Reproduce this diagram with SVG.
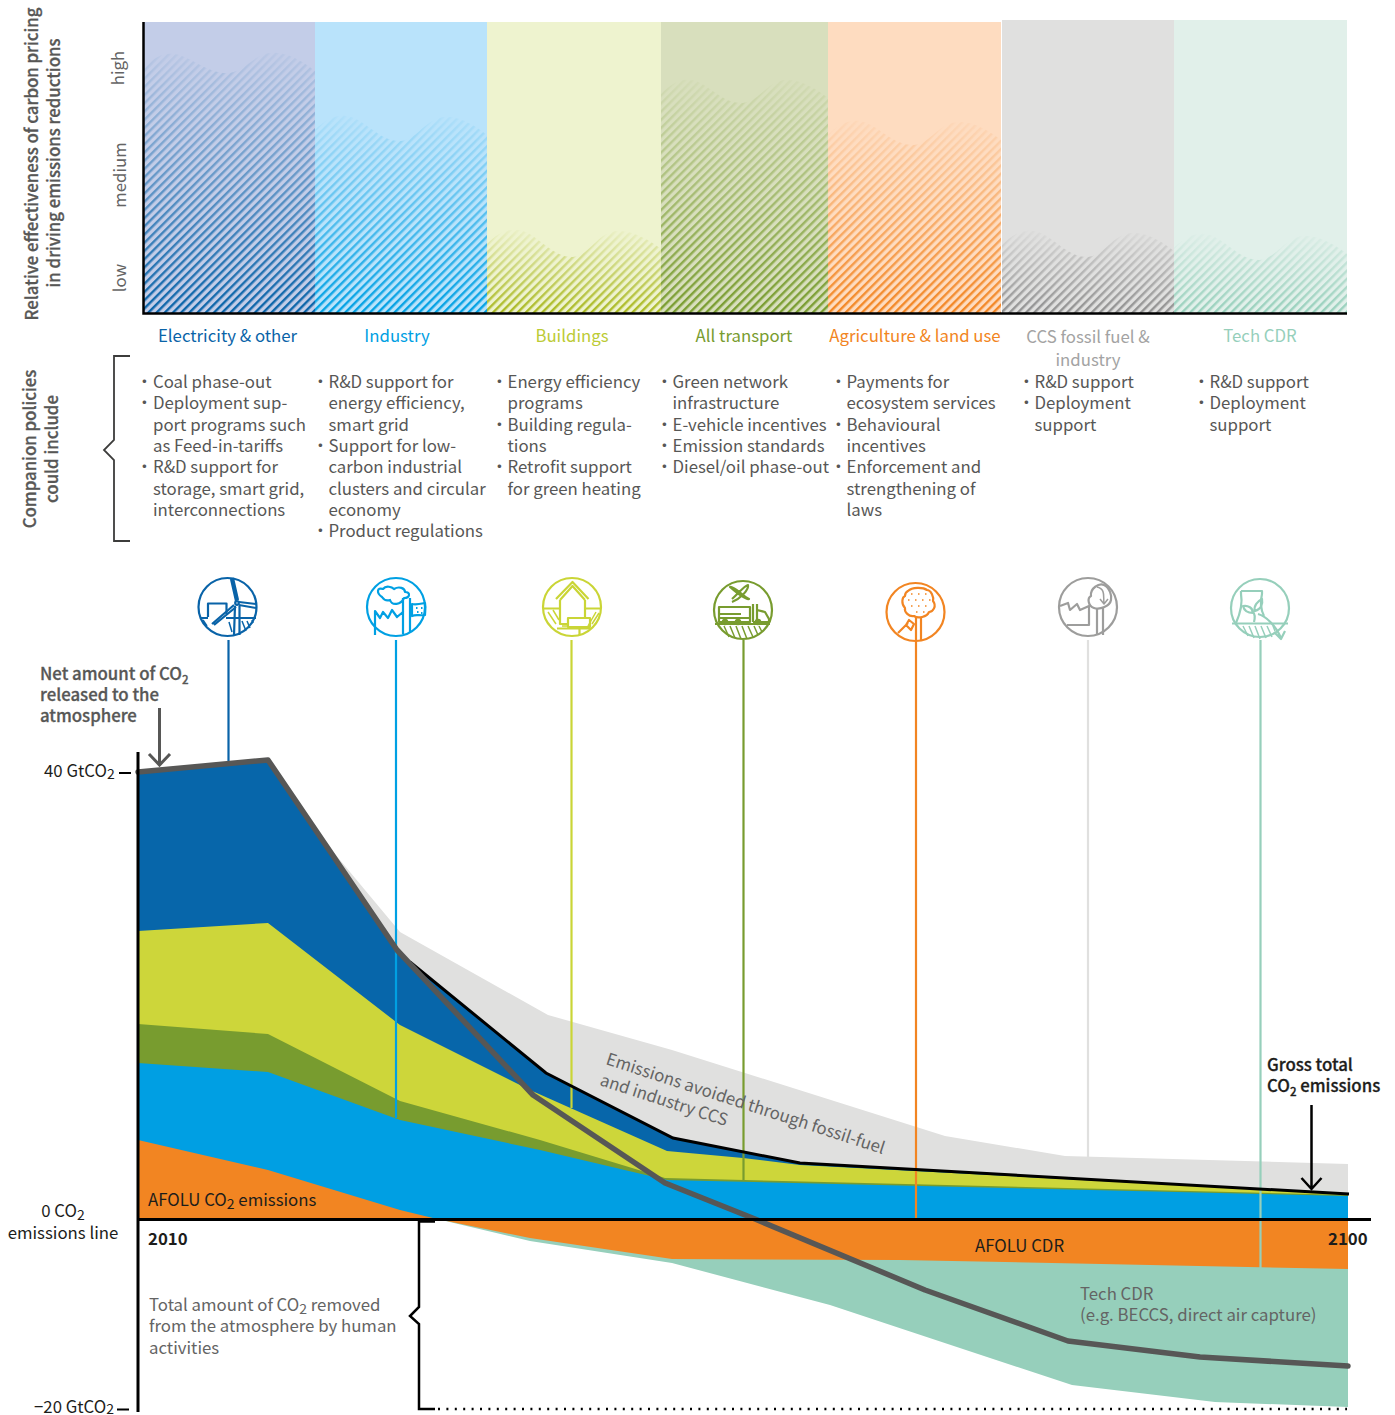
<svg xmlns="http://www.w3.org/2000/svg" width="1395" height="1415" viewBox="0 0 1395 1415">
<style>
text{font-family:"Noto Sans CJK SC","Source Sans Pro","Noto Sans",sans-serif;font-size:16.800px;fill:#1d1d1b}
.m{text-anchor:middle}
.g{fill:#646464}
.b{font-weight:700}
.md{font-weight:500;stroke:#1d1d1b;stroke-width:.3}
.lab{fill:#575756;font-weight:500;stroke:#575756;stroke-width:.3}
.pol{fill:#575756}
.ic{fill:none;stroke-width:2.200;stroke-linejoin:round}
.ht{stroke-width:1.500}
.conn{fill:none;stroke-width:2.200}
.ax{fill:none;stroke:#000;stroke-width:3}
</style>
<defs>
<linearGradient id="fade" x1="0" y1="0" x2="0" y2="1"><stop offset="0" stop-color="#fff" stop-opacity=".04"/><stop offset="1" stop-color="#fff" stop-opacity="1"/></linearGradient>
<pattern id="h1" width="5.800" height="5.800" patternUnits="userSpaceOnUse" patternTransform="rotate(-45)"><rect width="5.800" height="2.400" fill="#0963a8"/></pattern>
<pattern id="h2" width="5.800" height="5.800" patternUnits="userSpaceOnUse" patternTransform="rotate(-45)"><rect width="5.800" height="2.400" fill="#00a0e3"/></pattern>
<pattern id="h3" width="5.800" height="5.800" patternUnits="userSpaceOnUse" patternTransform="rotate(-45)"><rect width="5.800" height="2.400" fill="#a9b81f"/></pattern>
<pattern id="h4" width="5.800" height="5.800" patternUnits="userSpaceOnUse" patternTransform="rotate(-45)"><rect width="5.800" height="2.400" fill="#789c2f"/></pattern>
<pattern id="h5" width="5.800" height="5.800" patternUnits="userSpaceOnUse" patternTransform="rotate(-45)"><rect width="5.800" height="2.400" fill="#f28522"/></pattern>
<pattern id="h6" width="5.800" height="5.800" patternUnits="userSpaceOnUse" patternTransform="rotate(-45)"><rect width="5.800" height="2.400" fill="#8f8f8f"/></pattern>
<pattern id="h7" width="5.800" height="5.800" patternUnits="userSpaceOnUse" patternTransform="rotate(-45)"><rect width="5.800" height="2.400" fill="#96cfbb"/></pattern>
<mask id="m1" maskUnits="userSpaceOnUse" x="143" y="20" width="172" height="294"><path fill="url(#fade)" d="M143 68c12-12 24-17 36-13c16 5 30 19 50 18c18-2 26-22 48-20c14 1 28 10 38 18V313H143Z"/></mask>
<mask id="m2" maskUnits="userSpaceOnUse" x="315" y="20" width="172" height="294"><path fill="url(#fade)" d="M315 130c12-12 24-17 36-13c16 5 30 25 50 24c18-2 26-26 48-24c14 1 28 10 38 18V313H315Z"/></mask>
<mask id="m3" maskUnits="userSpaceOnUse" x="487" y="20" width="174" height="294"><path fill="url(#fade)" d="M487 244c12-12 24-17 36-13c16 5 30 27 50 26c18-2 26-28 48-26c14 1 30 10 40 18V313H487Z"/></mask>
<mask id="m4" maskUnits="userSpaceOnUse" x="661" y="20" width="167" height="294"><path fill="url(#fade)" d="M661 94c12-12 22-17 34-13c16 5 28 23 48 22c18-2 26-25 46-23c14 1 29 10 39 18V313H661Z"/></mask>
<mask id="m5" maskUnits="userSpaceOnUse" x="828" y="20" width="173" height="294"><path fill="url(#fade)" d="M828 135c12-12 24-17 36-13c16 5 30 24 50 23c18-2 26-25 48-23c14 1 29 10 39 18V313H828Z"/></mask>
<mask id="m6" maskUnits="userSpaceOnUse" x="1002" y="20" width="172" height="294"><path fill="url(#fade)" d="M1002 245c12-12 24-17 36-13c16 5 30 26 50 25c18-2 26-26 48-24c14 1 28 10 38 18V313H1002Z"/></mask>
<mask id="m7" maskUnits="userSpaceOnUse" x="1174" y="20" width="173" height="294"><path fill="url(#fade)" d="M1174 248c12-12 24-17 36-13c16 5 30 26 50 25c18-2 26-26 48-24c14 1 29 10 39 18V313H1174Z"/></mask>
</defs>

<g id="panels">
<rect x="143" y="22" width="172" height="291" fill="#c3cde8"/>
<rect x="315" y="22" width="172" height="291" fill="#b9e3fb"/>
<rect x="487" y="22" width="174" height="291" fill="#eef3cf"/>
<rect x="661" y="22" width="167" height="291" fill="#d8dfbd"/>
<rect x="828" y="22" width="173" height="291" fill="#fedcc0"/>
<rect x="1002" y="20" width="172" height="293" fill="#e0e0df"/>
<rect x="1174" y="20" width="173" height="293" fill="#e1f0ea"/>
<rect x="143" y="20" width="172" height="294" fill="url(#h1)" mask="url(#m1)"/>
<rect x="315" y="20" width="172" height="294" fill="url(#h2)" mask="url(#m2)"/>
<rect x="487" y="20" width="174" height="294" fill="url(#h3)" mask="url(#m3)"/>
<rect x="661" y="20" width="167" height="294" fill="url(#h4)" mask="url(#m4)"/>
<rect x="828" y="20" width="173" height="294" fill="url(#h5)" mask="url(#m5)"/>
<rect x="1002" y="20" width="172" height="294" fill="url(#h6)" mask="url(#m6)"/>
<rect x="1174" y="20" width="173" height="294" fill="url(#h7)" mask="url(#m7)"/>
<path class="ax" style="stroke-width:2.500" d="M143.500 22V313.500H1347"/>
</g>

<g id="y-labels">
<text class="lab m" transform="translate(38,164) rotate(-90)">Relative effectiveness of carbon pricing</text>
<text class="lab m" transform="translate(60,163) rotate(-90)">in driving emissions reductions</text>
<text class="g m" transform="translate(124,68) rotate(-90)">high</text>
<text class="g m" transform="translate(126,175) rotate(-90)">medium</text>
<text class="g m" transform="translate(126,278) rotate(-90)">low</text>
<text class="lab m" transform="translate(36,449) rotate(-90)">Companion policies</text>
<text class="lab m" transform="translate(58,449) rotate(-90)">could include</text>
<path fill="none" stroke="#3c3c3b" stroke-width="1.800" d="M130 356H114V440L104 450L114 460V541H130"/>
</g>

<g id="sector-labels">
<text class="m" x="227.500" y="342" style="fill:#0963a8">Electricity &amp; other</text>
<text class="m" x="397" y="342" style="fill:#00a0e3">Industry</text>
<text class="m" x="572" y="342" style="fill:#bccb35">Buildings</text>
<text class="m" x="744" y="342" style="fill:#789c2f">All transport</text>
<text class="m" x="915" y="342" style="fill:#f28522">Agriculture &amp; land use</text>
<text class="m" x="1088" y="343" style="fill:#a3a3a3">CCS fossil fuel &amp;</text>
<text class="m" x="1088" y="366" style="fill:#a3a3a3">industry</text>
<text class="m" x="1260" y="342" style="fill:#96cfbb">Tech CDR</text>
</g>

<g id="policies">
<text class="pol" x="136" y="388">•</text><text class="pol" x="153" y="388">Coal phase-out</text>
<text class="pol" x="136" y="409">•</text><text class="pol" x="153" y="409">Deployment sup-</text>
<text class="pol" x="153" y="431">port programs such</text>
<text class="pol" x="153" y="452">as Feed-in-tariffs</text>
<text class="pol" x="136" y="473">•</text><text class="pol" x="153" y="473">R&amp;D support for</text>
<text class="pol" x="153" y="495">storage, smart grid,</text>
<text class="pol" x="153" y="516">interconnections</text>

<text class="pol" x="312" y="388">•</text><text class="pol" x="328.500" y="388">R&amp;D support for</text>
<text class="pol" x="328.500" y="409">energy efficiency,</text>
<text class="pol" x="328.500" y="431">smart grid</text>
<text class="pol" x="312" y="452">•</text><text class="pol" x="328.500" y="452">Support for low-</text>
<text class="pol" x="328.500" y="473">carbon industrial</text>
<text class="pol" x="328.500" y="495">clusters and circular</text>
<text class="pol" x="328.500" y="516">economy</text>
<text class="pol" x="312" y="537">•</text><text class="pol" x="328.500" y="537">Product regulations</text>

<text class="pol" x="491" y="388">•</text><text class="pol" x="507.500" y="388">Energy efficiency</text>
<text class="pol" x="507.500" y="409">programs</text>
<text class="pol" x="491" y="431">•</text><text class="pol" x="507.500" y="431">Building regula-</text>
<text class="pol" x="507.500" y="452">tions</text>
<text class="pol" x="491" y="473">•</text><text class="pol" x="507.500" y="473">Retrofit support</text>
<text class="pol" x="507.500" y="495">for green heating</text>

<text class="pol" x="656" y="388">•</text><text class="pol" x="672.500" y="388">Green network</text>
<text class="pol" x="672.500" y="409">infrastructure</text>
<text class="pol" x="656" y="431">•</text><text class="pol" x="672.500" y="431">E-vehicle incentives</text>
<text class="pol" x="656" y="452">•</text><text class="pol" x="672.500" y="452">Emission standards</text>
<text class="pol" x="656" y="473">•</text><text class="pol" x="672.500" y="473">Diesel/oil phase-out</text>

<text class="pol" x="830" y="388">•</text><text class="pol" x="846.500" y="388">Payments for</text>
<text class="pol" x="846.500" y="409">ecosystem services</text>
<text class="pol" x="830" y="431">•</text><text class="pol" x="846.500" y="431">Behavioural</text>
<text class="pol" x="846.500" y="452">incentives</text>
<text class="pol" x="830" y="473">•</text><text class="pol" x="846.500" y="473">Enforcement and</text>
<text class="pol" x="846.500" y="495">strengthening of</text>
<text class="pol" x="846.500" y="516">laws</text>

<text class="pol" x="1018" y="388">•</text><text class="pol" x="1034.500" y="388">R&amp;D support</text>
<text class="pol" x="1018" y="409">•</text><text class="pol" x="1034.500" y="409">Deployment</text>
<text class="pol" x="1034.500" y="431">support</text>

<text class="pol" x="1193" y="388">•</text><text class="pol" x="1209.500" y="388">R&amp;D support</text>
<text class="pol" x="1193" y="409">•</text><text class="pol" x="1209.500" y="409">Deployment</text>
<text class="pol" x="1209.500" y="431">support</text>
</g>

<g id="areas">
<path fill="#e0e0df" d="M320 836L400 932L548 1015L672 1050L945 1136L1065 1156L1348 1164V1196L800 1165L672 1140L545 1076L408 962Z"/>
<path fill="#96cfbb" d="M437 1219L530 1241L672 1263L830 1305L1072 1385L1215 1402L1348 1407V1219Z"/>
<path fill="#f28522" d="M437 1219L530 1238L672 1259L900 1260L1348 1269V1219Z"/>
<path fill="#0766aa" d="M138 772L268 760L397 950L418 968L546 1073L673 1138L800 1163L1348 1194V1200H138Z"/>
<path fill="#cdd63a" d="M138 931L268 923L400 1025L530 1090L667 1151L743 1158L800 1165L1348 1194V1210H138Z"/>
<path fill="#789c2f" d="M138 1024L268 1034L400 1101L540 1140L665 1178L1348 1195V1210H138Z"/>
<path fill="#009fe3" d="M138 1063L268 1072L400 1120L540 1150L667 1180L1348 1196V1219H138Z"/>
<path fill="#f28522" d="M138 1140L268 1170L400 1210L437 1219H138Z"/>
</g>

<g id="connectors" class="conn">
<path class="conn" stroke="#0963a8" d="M228.500 640V764"/>
<path class="conn" stroke="#00a0e3" d="M396 640V1118"/>
<path class="conn" stroke="#cad536" d="M571.500 640V1108"/>
<path class="conn" stroke="#789c2f" d="M743.500 640V1181"/>
<path class="conn" stroke="#f28522" d="M916 640V1218"/>
<path class="conn" stroke="#e0e0df" d="M1088 640V1157"/>
<path class="conn" stroke="#96cfbb" d="M1260.500 640V1269"/>
</g>

<g id="lines">
<path fill="none" stroke="#000" stroke-width="3" d="M410 962L546 1073L673 1138L800 1163L1349 1194"/>
<path fill="none" stroke="#575756" stroke-width="5.500" stroke-linejoin="round" stroke-linecap="round" d="M138 772L268 760L397 950L533 1095L665 1183L755 1219L925 1290L1068 1341L1200 1357L1348 1366"/>
<path class="ax" d="M138 752V1412"/>
<path class="ax" d="M137 1219.500H1371"/>
<path fill="none" stroke="#000" stroke-width="2.500" d="M435 1221.500H419V1307L410 1316L419 1324V1409H435"/>
<path fill="none" stroke="#000" stroke-width="2.500" stroke-dasharray="2 6.400" d="M438 1409H1347"/>
<path fill="none" stroke="#000" stroke-width="2" d="M117 1409.500H129"/>
<path fill="none" stroke="#000" stroke-width="2" d="M119 773H131"/>
<path fill="none" stroke="#575756" stroke-width="3" d="M159.500 708V765M149 754L159.500 765L170 754"/>
<path fill="none" stroke="#000" stroke-width="2.500" d="M1311.500 1105V1189M1301.500 1178L1311.500 1189L1321.500 1178"/>
</g>

<g id="chart-text">
<text class="lab" x="40" y="680">Net amount of CO<tspan dy="4" font-size="11.500">2</tspan></text>
<text class="lab" x="40" y="701">released to the</text>
<text class="lab" x="40" y="722">atmosphere</text>
<text x="44" y="777">40 GtCO<tspan dy="2" font-size="14">2</tspan></text>
<text class="m" x="63" y="1217">0 CO<tspan dy="3" font-size="14">2</tspan></text>
<text class="m" x="63" y="1239">emissions line</text>
<text x="34" y="1413">−20 GtCO<tspan dy="1" font-size="14">2</tspan></text>
<text x="148" y="1206">AFOLU CO<tspan dy="3" font-size="14">2</tspan><tspan dy="-3"> emissions</tspan></text>
<text class="b" x="148" y="1245">2010</text>
<text class="b" x="1328" y="1245">2100</text>
<text x="975" y="1252">AFOLU CDR</text>
<text class="g" x="1080" y="1300">Tech CDR</text>
<text class="g" x="1080" y="1321">(e.g. BECCS, direct air capture)</text>
<text class="g" x="149" y="1311">Total amount of CO<tspan dy="3" font-size="14">2</tspan><tspan dy="-3"> removed</tspan></text>
<text class="g" x="149" y="1332">from the atmosphere by human</text>
<text class="g" x="149" y="1354">activities</text>
<text class="g" transform="translate(605,1064) rotate(18)">Emissions avoided through fossil-fuel</text>
<text class="g" transform="translate(599,1085) rotate(18)">and industry CCS</text>
<text class="md" x="1267" y="1071">Gross total</text>
<text class="md" x="1267" y="1092">CO<tspan dy="4" font-size="11.500">2</tspan><tspan dy="-4"> emissions</tspan></text>
</g>

<g id="icon-electricity" class="ic" stroke="#0963a8">
<circle cx="227.500" cy="607" r="29"/>
<path d="M208 617V603.500H226.500V614"/>
<path d="M200 618H208M226 618H256"/>
<path d="M235 606L234 635M239.500 606V635"/>
<path d="M236 601L231 579M238 600L233 578M239 602L256 604M239 605L256 608M234 605L212 624M236 607L214 625"/>
<circle cx="237" cy="603" r="1.800"/>
<path class="ht" d="M203 620L207 626M229 622L232 632M242 621L246 631M247 621L250 628M252 620L253 623"/>
</g>
<g id="icon-industry" class="ic" stroke="#00a0e3">
<circle cx="396" cy="607" r="29"/>
<path d="M375 635V611L380 618L383 612L388 618L392 610L397 617L403 612V634"/>
<path d="M403 612V598M410 598V633"/>
<path d="M382 597C376 593 377 587 383 589C386 585 392 587 394 589C399 586 405 588 405 592C411 592 410 598 404 598C401 605 392 606 390 600C387 601 384 600 382 597Z"/>
<path d="M412 604C416 605 420 604 425 603C426 608 425 612 425 615C420 616 416 614 412 616Z"/>
<path d="M416 608h1.500M421 608h1.500M417 612h1.500M421 613h1.500" stroke-width="1.800"/>
</g>
<g id="icon-buildings" class="ic" stroke="#cad536">
<circle cx="572" cy="607" r="29"/>
<path d="M556 599L572.500 582L588.500 599M560 600L572.500 586L585 600"/>
<path d="M560 600V624H568M585 600V618"/>
<path d="M544 608.500H560M585 608.500H600"/>
<path d="M568 618H590V627H568Z"/>
<path d="M557 628.500H590M579.500 628.500V635"/>
<path class="ht" d="M548 612L556 624M553 610L559 620M588 626L596 612M592 624L599 613M562 626H568"/>
</g>
<g id="icon-transport" class="ic" stroke="#789c2f">
<circle cx="743" cy="610" r="29"/>
<path d="M730 587C734 586 743 596 749 599C746 600 738 594 730 587ZM732 599C738 594 744 586 748 585C749 590 740 599 732 602"/>
<path d="M719 607H750V622H719ZM719 614H741M719 618H750"/>
<path d="M753 604V622M757 604V622M757 610L765 612L769 619V622H753"/>
<path d="M715 624H770"/>
<circle cx="725" cy="622" r="2.200"/><circle cx="738" cy="622" r="2.200"/><circle cx="758" cy="622" r="2.200"/>
<path class="ht" d="M724 626L729 637M730 626L735 638M736 626L741 639M742 626L747 639M748 626L753 637M754 626L758 635M759 626L762 632"/>
</g>
<g id="icon-agriculture" class="ic" stroke="#f28522">
<circle cx="915.500" cy="612" r="29"/>
<path d="M908 591C912 587 923 587 927 590C931 590 934 597 933 601C937 606 933 612 929 612C927 617 918 619 914 616C909 617 904 612 905 608C901 604 902 597 905 596C905 594 906 592 908 591Z"/>
<path d="M916 617V640M921 617V640"/>
<path d="M898 633L908 623M906 625L911 630L914 624L909 620Z"/>
<path d="M911 594h1.500M918 594h1.500M925 594h1.500M908 600h1.500M915 600h1.500M922 600h1.500M929 600h1.500M911 606h1.500M918 606h1.500M925 606h1.500M916 612h1.500M923 612h1.500" stroke-width="1.600"/>
</g>
<g id="icon-ccs" class="ic" stroke="#9d9d9c">
<circle cx="1088" cy="607" r="29"/>
<path d="M1060 606L1068 603L1070 610L1077 604L1080 610L1089 606V625H1067"/>
<path d="M1097 608V635M1103 608V635"/>
<path d="M1094 608C1088 606 1087 598 1091 596C1090 588 1099 583 1104 585C1110 588 1112 596 1111 600C1110 606 1100 610 1094 608Z"/>
<path class="ht" d="M1097 587C1106 589 1103 597 1104 603M1100 599L1104 604L1108 599"/>
</g>
<g id="icon-techcdr" class="ic" stroke="#96cfbb">
<circle cx="1260" cy="608" r="29"/>
<path d="M1241 591H1262V594C1260 602 1261 610 1264 616M1241 591V594C1243 605 1240 614 1236 623"/>
<path d="M1232 623.500H1288"/>
<path d="M1254 622C1255 618 1255 614 1253 612M1253 613C1247 613 1244 610 1243 606C1248 605 1253 608 1253 613ZM1255 611C1253 606 1258 601 1262 599C1263 604 1261 609 1255 611Z"/>
<path d="M1258 614C1266 616 1276 626 1281 638M1274 632L1281 639L1285 631"/>
<path class="ht" d="M1243 626L1248 636M1249 626L1254 638M1255 626L1260 639M1261 626L1266 638M1267 626L1272 637M1273 626L1275 631"/>
</g>
</svg>
